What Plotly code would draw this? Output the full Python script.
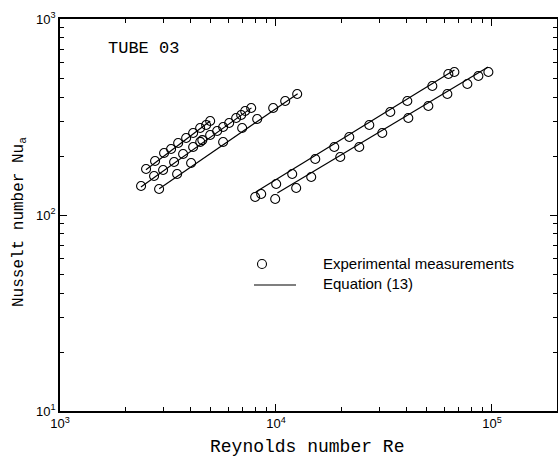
import plotly.graph_objects as go

# ---- data ----
re_a = [2503, 2755, 3033, 3268, 3524, 3837, 4134, 4455, 4749, 4957]
nu_a = [171.7, 188.6, 207.2, 217.1, 232.9, 247.2, 262.0, 277.8, 287.9, 301.7]

re_b = [2373, 2726, 3001, 3375, 3715, 4134, 4460, 4560, 4957, 5340, 5692, 6070, 6540, 6900, 7200, 7678]
nu_b = [140.6, 158.1, 169.7, 186.4, 204.8, 222.3, 236.0, 241.0, 256.0, 268.3, 281.2, 294.7, 312.6, 323.8, 339.3, 351.6]

re_c = [2876, 3485, 4046, 5692, 6972, 8184, 9706, 11030, 12536]
nu_c = [135.7, 161.9, 184.2, 235.7, 277.8, 308.9, 351.6, 381.6, 414.4]

re_d = [8009, 8541, 10021, 11887, 15198, 18613, 21844, 27036, 33823, 40552, 52943, 62807, 66969]
nu_d = [123.6, 128.0, 143.9, 161.9, 193.1, 222.3, 250.0, 287.9, 335.3, 381.6, 455.1, 524.2, 536.7]

re_e = [9915, 12402, 14558, 19838, 24295, 31051, 40985, 50738, 62140, 76913, 86494, 96233]
nu_e = [120.7, 137.3, 156.3, 197.7, 222.3, 262.0, 312.6, 359.8, 414.4, 466.0, 511.9, 536.7]

# Equation (13) curves (end points)
eq_a_re = [2500, 4960]
eq_a_nu = [170, 302]
eq_b_re = [2370, 7700]
eq_b_nu = [139, 352]
eq_c_re = [2880, 12600]
eq_c_nu = [136, 416]
eq_d_re = [8060, 67000]
eq_d_nu = [131, 549]
eq_e_re = [10150, 96000]
eq_e_nu = [129.5, 569]

# tick labels
x_major = [1e3, 1e4, 1e5]
x_major_text = ["10<sup>3</sup>", "10<sup>4</sup>", "10<sup>5</sup>"]
y_major = [1e1, 1e2, 1e3]
y_major_text = ["10<sup>1</sup>", "10<sup>2</sup>", "10<sup>3</sup>"]
x_minor = [m * 10 ** e for e in (3, 4, 5) for m in range(2, 10) if m * 10 ** e <= 2e5]
y_minor = [m * 10 ** e for e in (1, 2) for m in range(2, 10)]

series = [(re_a, nu_a), (re_b, nu_b), (re_c, nu_c), (re_d, nu_d), (re_e, nu_e)]
equations = [(eq_a_re, eq_a_nu), (eq_b_re, eq_b_nu), (eq_c_re, eq_c_nu),
             (eq_d_re, eq_d_nu), (eq_e_re, eq_e_nu)]

fig = go.Figure()
for xs, ys in equations:
    fig.add_trace(go.Scatter(x=xs, y=ys, mode="lines",
                             line=dict(color="black", width=1.2),
                             showlegend=False, hoverinfo="skip"))
for xs, ys in series:
    fig.add_trace(go.Scatter(x=xs, y=ys, mode="markers",
                             marker=dict(symbol="circle-open", size=9,
                                         color="black", line=dict(width=1.1)),
                             showlegend=False))
# invisible trace binding the minor-tick axes
fig.add_trace(go.Scatter(x=[2000], y=[20], xaxis="x2", yaxis="y2", mode="markers",
                         marker=dict(opacity=0), showlegend=False, hoverinfo="skip"))

mono = "Courier New, Liberation Mono, monospace"
sans = "Arial, Liberation Sans, Helvetica, sans-serif"

axis_common = dict(
    type="log", showgrid=False, zeroline=False, automargin=False,
    showline=True, linecolor="black", linewidth=1.6, mirror="allticks",
    ticks="inside", tickwidth=1, tickcolor="black",
    tickfont=dict(family=sans, size=13, color="black"),
)

W, H = 558, 457
ML, MR, MT, MB = 60, 1, 19, 46
PW, PH = W - ML - MR, H - MT - MB
XR, YR = [3, 5.30103], [1, 3]

fig.update_layout(
    width=W, height=H,
    margin=dict(l=ML, r=MR, t=MT, b=MB, autoexpand=False),
    paper_bgcolor="white", plot_bgcolor="white",
    showlegend=False,
    xaxis=dict(range=XR, tickvals=x_major, ticktext=x_major_text, ticklen=7, **axis_common),
    yaxis=dict(range=YR, tickvals=y_major, ticktext=y_major_text, ticklen=7, **axis_common),
    xaxis2=dict(range=XR, tickvals=x_minor, showticklabels=False, ticklen=4,
                overlaying="x", side="bottom", **axis_common),
    yaxis2=dict(range=YR, tickvals=y_minor, showticklabels=False, ticklen=4,
                overlaying="y", side="left", **axis_common),
)


def px(x):
    return (x - ML) / PW


def py(y):
    return (H - MB - y) / PH


# axis titles
fig.add_annotation(text="Reynolds number Re", xref="paper", yref="paper",
                   x=px(307), y=py(447), xanchor="center", yanchor="middle", showarrow=False,
                   font=dict(family=mono, size=18, color="black"))
fig.add_annotation(text="Nusselt number Nu<sub>a</sub>", xref="paper", yref="paper",
                   x=px(20), y=py(222), xanchor="center", yanchor="middle", showarrow=False,
                   textangle=-90, font=dict(family=mono, size=16, color="black"))

# legend drawn inside the plot
cx, cy, r = px(262), py(264), 4.5
fig.add_shape(type="circle", xref="paper", yref="paper",
              x0=cx - r / PW, x1=cx + r / PW, y0=cy - r / PH, y1=cy + r / PH,
              line=dict(color="black", width=1.1))
fig.add_shape(type="line", xref="paper", yref="paper",
              x0=px(254), x1=px(296), y0=py(285), y1=py(285),
              line=dict(color="black", width=1.2))
fig.add_annotation(text="Experimental measurements", xref="paper", yref="paper",
                   x=px(321), y=py(263), xanchor="left", yanchor="middle", showarrow=False,
                   font=dict(family=sans, size=15, color="black"))
fig.add_annotation(text="Equation (13)", xref="paper", yref="paper",
                   x=px(321), y=py(283), xanchor="left", yanchor="middle", showarrow=False,
                   font=dict(family=sans, size=15, color="black"))
fig.add_annotation(text="TUBE 03", xref="paper", yref="paper",
                   x=px(106), y=py(48), xanchor="left", yanchor="middle", showarrow=False,
                   font=dict(family=mono, size=17, color="black"))

fig.write_html(
    "out.html",
    config={"displayModeBar": False},
    post_script="document.body.style.margin='0';document.body.style.overflow='hidden';",
)
